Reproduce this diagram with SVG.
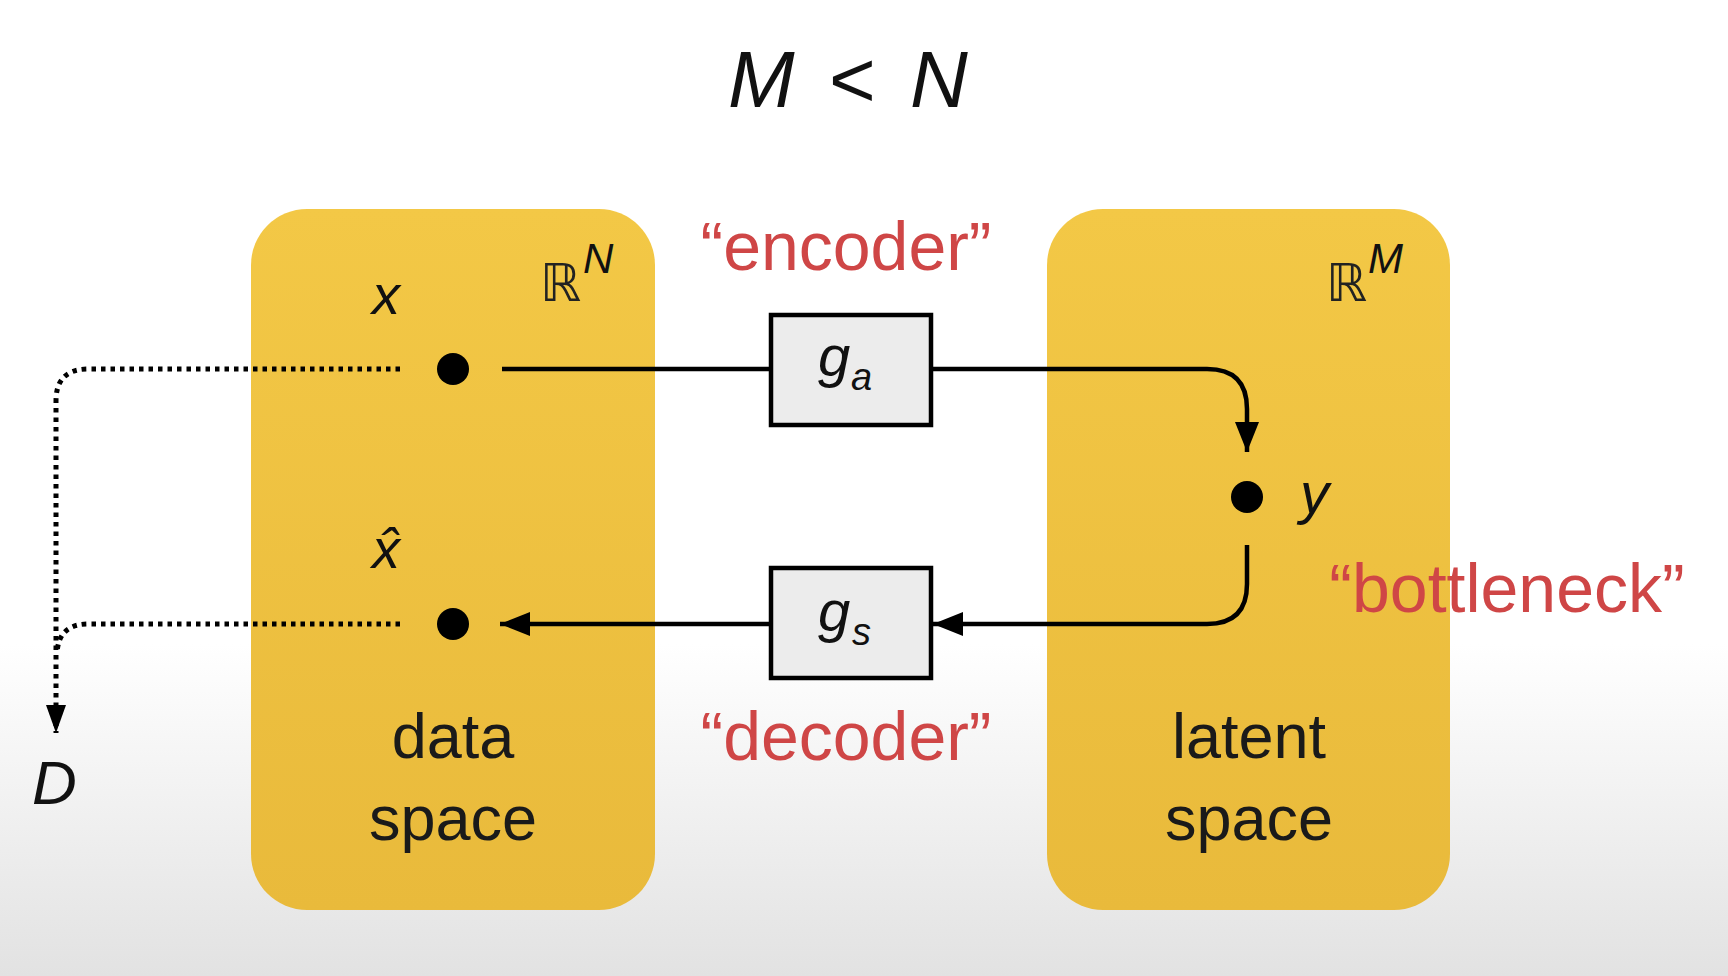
<svg xmlns="http://www.w3.org/2000/svg" width="1728" height="976" viewBox="0 0 1728 976">
  <defs>
    <linearGradient id="bg" x1="0" y1="0" x2="0" y2="1">
      <stop offset="0" stop-color="#ffffff"/>
      <stop offset="0.66" stop-color="#ffffff"/>
      <stop offset="1" stop-color="#e2e2e2"/>
    </linearGradient>
    <linearGradient id="yel" x1="0" y1="0" x2="0" y2="1">
      <stop offset="0" stop-color="#f3c846"/>
      <stop offset="1" stop-color="#e9ba3b"/>
    </linearGradient>
    <marker id="arr" markerUnits="userSpaceOnUse" markerWidth="30" markerHeight="24" refX="30" refY="12" orient="auto" viewBox="0 0 30 24">
      <path d="M0,0 L30,12 L0,24 Z" fill="#000"/>
    </marker>
    <marker id="arrs" markerUnits="userSpaceOnUse" markerWidth="28" markerHeight="20" refX="28" refY="10" orient="auto" viewBox="0 0 28 20">
      <path d="M0,0 L28,10 L0,20 Z" fill="#000"/>
    </marker>
    <style>
      .space { fill: url(#yel); }
      .fbox { fill: #ececec; stroke: #000; stroke-width: 4.5; }
      .dot { fill: #000; }
      .solid { fill: none; stroke: #000; stroke-width: 4.5; }
      .dotted { fill: none; stroke: #000; stroke-width: 5; stroke-dasharray: 4.5 5; }
      .math { font-family: "Liberation Sans", "DejaVu Sans", sans-serif; font-style: italic; fill: #111; }
      .dbl { font-family: "DejaVu Sans", sans-serif; fill: #222; }
      .red { font-family: "Liberation Sans", sans-serif; fill: #cf4646; font-size: 68px; text-anchor: middle; }
      .lbl { font-family: "Liberation Sans", sans-serif; fill: #1a1a1a; font-size: 63px; text-anchor: middle; }
    </style>
  </defs>

  <rect x="0" y="0" width="1728" height="976" fill="url(#bg)"/>

  <g id="title">
    <text y="107" font-size="80" font-family="Liberation Sans, sans-serif" fill="#111"><tspan x="728" font-style="italic">M</tspan><tspan x="829">&lt;</tspan><tspan x="910" font-style="italic">N</tspan></text>
  </g>

  <g id="data-space">
    <rect class="space" x="251" y="209" width="404" height="701" rx="56" ry="56"/>
    <text class="dbl" x="540" y="301" font-size="52">ℝ</text>
    <text class="math" x="583" y="273" font-size="42">N</text>
    <text class="lbl" x="453" y="758">data</text>
    <text class="lbl" x="453" y="840">space</text>
  </g>

  <g id="latent-space">
    <rect class="space" x="1047" y="209" width="403" height="701" rx="56" ry="56"/>
    <text class="dbl" x="1326" y="301" font-size="52">ℝ</text>
    <text class="math" x="1368" y="273" font-size="42">M</text>
    <text class="lbl" x="1249" y="758">latent</text>
    <text class="lbl" x="1249" y="840">space</text>
  </g>

  <g id="node-x">
    <circle class="dot" cx="453" cy="369" r="16"/>
    <text class="math" x="372" y="314" font-size="56">x</text>
  </g>

  <g id="node-xhat">
    <circle class="dot" cx="453" cy="624" r="16"/>
    <text class="math" x="372" y="568" font-size="56">x̂</text>
  </g>

  <g id="node-y">
    <circle class="dot" cx="1247" cy="497" r="16"/>
    <text class="math" x="1300" y="513" font-size="58">y</text>
    <text class="red" x="1507" y="612" font-size="72">“bottleneck”</text>
  </g>

  <g id="encoder">
    <rect class="fbox" x="771" y="315" width="160" height="110"/>
    <text class="math" x="818" y="376" font-size="58">g</text>
    <text class="math" x="851" y="390" font-size="38">a</text>
    <text class="red" x="846" y="270">“encoder”</text>
  </g>

  <g id="decoder">
    <rect class="fbox" x="771" y="568" width="160" height="110"/>
    <text class="math" x="818" y="631" font-size="58">g</text>
    <text class="math" x="852" y="645" font-size="38">s</text>
    <text class="red" x="846" y="760">“decoder”</text>
  </g>

  <g id="node-D">
    <text class="math" x="32" y="804" font-size="62">D</text>
  </g>

  <g id="connectors">
    <path class="solid" d="M502,369 H771"/>
    <path class="solid" d="M931,369 H1207 Q1247,369 1247,409 V452" marker-end="url(#arr)"/>
    <path class="solid" d="M1247,545 V584 Q1247,624 1207,624 H933" marker-end="url(#arr)"/>
    <path class="solid" d="M771,624 H500" marker-end="url(#arr)"/>
    <path class="dotted" d="M400,369 H88 Q56,369 56,401 V733" marker-end="url(#arrs)"/>
    <path class="dotted" d="M400,624 H88 Q58,624 57,654"/>
  </g>
</svg>
